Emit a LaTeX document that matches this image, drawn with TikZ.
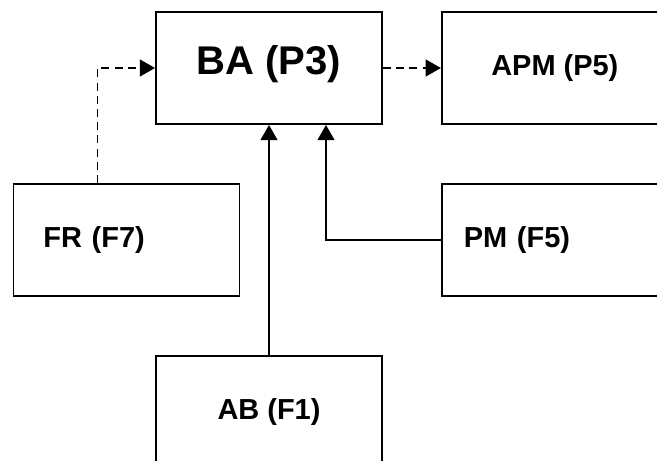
\documentclass[tikz,border=0pt]{standalone}
\usepackage{fontspec}
\setmainfont{Liberation Sans}
\usetikzlibrary{positioning}
\usetikzlibrary{arrows.meta}

\begin{document}
\begin{tikzpicture}[node distance=1.45cm,
		box/.style={draw, line width=1.3pt, minimum width=5.65cm, minimum height=2.8cm, inner sep=0pt, font=\fontsize{20.6}{24}\selectfont\bfseries},
		leftbox/.style={box, align=left, text width=5.65cm-2*#1, inner xsep=#1},
		flow/.style={line width=1.3pt, -{Triangle[length=0.38cm, width=0.42cm]}},
		weak/.style={flow, dash pattern=on 0.2cm off 0.13cm}]
	% Frame
	\fill[white, use as bounding box] (-6.725,-9.825) rectangle (9.7,1.7);
	\clip (-6.725,-9.825) rectangle (9.7,1.7);
	
	% Nodes
	\node[box, font=\fontsize{28.5}{34}\selectfont\bfseries, text depth=0.39cm] (ba) at (0,0) {BA (P3)};
	\node[box, right=of ba] (apm) {APM (P5)};
	\node[leftbox=0.55cm, below=of apm] (pm) {PM (F5)};
	\node[leftbox=0.75cm, below=of ba, xshift=-3.5625cm] (fr) {FR (F7)};
	\node[box, below=of fr, xshift=3.5625cm] (ab) {AB (F1)};
	
	% Arrows
	\draw[weak] ([xshift=2.125cm]fr.north west) |- (ba.west);
	\draw[weak] (ba.east) -- (apm.west);
	\draw[flow] (ab.north) -- (ba.south);
	\draw[flow] (pm.west) -| ([xshift=1.425cm]ba.south);
\end{tikzpicture}
\end{document}
